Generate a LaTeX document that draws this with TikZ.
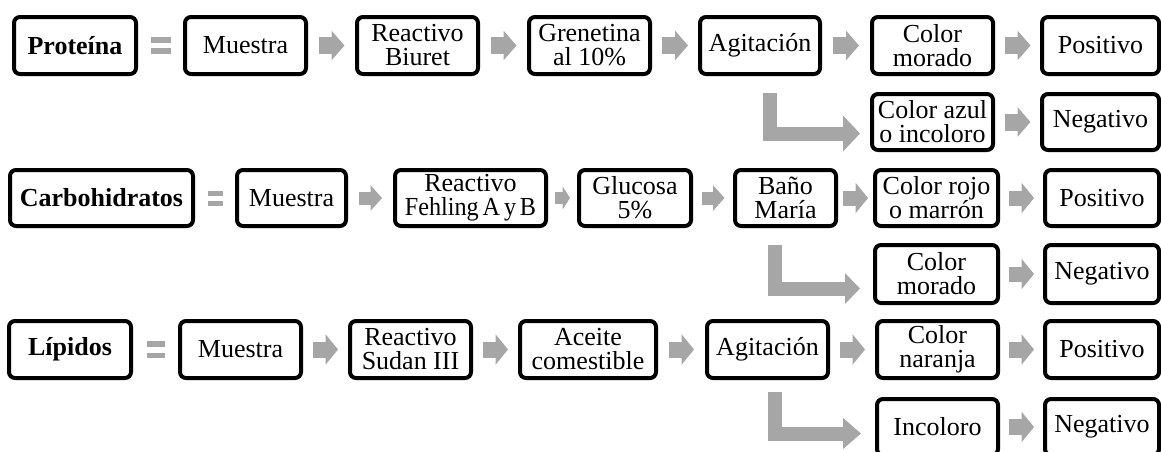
\documentclass[tikz,border=0pt]{standalone}
\usepackage{fontspec}
\setmainfont{Liberation Serif}
\usetikzlibrary{calc,arrows.meta}
\definecolor{arrgray}{HTML}{A6A6A6}
\tikzset{
  box/.style={draw=black, line width=4pt, rounded corners=6pt, fill=white, align=center,
    inner sep=0pt, font=\fontsize{26}{24}\selectfont},
  titlebox/.style={box, font=\fontsize{26}{24}\selectfont\bfseries},
  eqbar/.style={draw=arrgray, line width=#1},
  elbow/.style={draw=arrgray, line width=14pt, line join=miter},
}
\newcommand{\tight}[1]{\scalebox{0.93}[1]{\spaceskip=0.16em\relax #1}}
% block arrow centred between two nodes: from, to, length, shaft, head width
\newcommand{\blkarr}[5]{%
  \path (#1.east) -- (#2.west) coordinate[pos=.5] (bmid);
  \draw[arrgray, line width=#4pt, -{Triangle[length=#3*0.5pt, width=#5pt]}]
    ($(bmid)+(-#3/2,0)$) -- ($(bmid)+(#3/2,0)$);}
% equals sign centred between two nodes: from, to, width, offset, thickness
\newcommand{\eqconn}[5]{%
  \path (#1.east) -- (#2.west) coordinate[pos=.5] (emid);
  \draw[eqbar=#5pt] ($(emid)+(-#3/2,-#4)$) -- ($(emid)+(#3/2,-#4)$);
  \draw[eqbar=#5pt] ($(emid)+(-#3/2,#4)$) -- ($(emid)+(#3/2,#4)$);}
\begin{document}
\begin{tikzpicture}[x=1pt,y=-1pt]
\useasboundingbox (0,0) rectangle (1161,451);
% ---------- Row 1: Proteina
\node[titlebox, minimum width=122pt, minimum height=57pt] (prot) at (75,45.5) {Proteína};
\node[box, minimum width=121pt, minimum height=57pt] (m1) at (245.5,45.5) {Muestra};
\node[box, minimum width=121pt, minimum height=57pt] (r1) at (417.5,45.5) {Reactivo\\Biuret};
\node[box, minimum width=121pt, minimum height=57pt] (g1) at (589.5,45.5) {Grenetina\\al 10\%};
\node[box, minimum width=120pt, minimum height=57pt] (a1) at (760,45.5) {Agitación};
\node[box, minimum width=121pt, minimum height=57pt] (c1) at (932.5,45.5) {Color\\morado};
\node[box, minimum width=117pt, minimum height=57pt] (p1) at (1100.5,45.5) {Positivo};
\node[box, minimum width=121pt, minimum height=56pt] (n1c) at (932.5,122) {Color azul\\o incoloro};
\node[box, minimum width=117pt, minimum height=56pt] (n1) at (1100.5,122) {Negativo};
\eqconn{prot}{m1}{20}{5.5}{6}
\blkarr{m1}{r1}{26}{17}{29}
\blkarr{r1}{g1}{26}{17}{29}
\blkarr{g1}{a1}{26}{17}{29}
\blkarr{a1}{c1}{26}{17}{29}
\blkarr{c1}{p1}{26}{17}{29}
\blkarr{n1c}{n1}{26}{17}{29}
\coordinate (e1) at (770,93);
\draw[elbow, -{Triangle[length=17pt, width=35pt]}] (e1) |- ($(n1c.west)+(-10,11.5)$);
% ---------- Row 2: Carbohidratos
\node[titlebox, minimum width=183pt, minimum height=56pt] (carb) at (101.5,198) {Carbohidratos};
\node[box, minimum width=109pt, minimum height=56pt] (m2) at (291.5,198) {Muestra};
\node[box, minimum width=151pt, minimum height=56pt] (r2) at (470.5,198) {Reactivo\\\tight{Fehling A y B}};
\node[box, minimum width=112pt, minimum height=56pt] (g2) at (635,198) {Glucosa\\5\%};
\node[box, minimum width=101pt, minimum height=56pt] (b2) at (785.5,198) {Baño\\María};
\node[box, minimum width=123pt, minimum height=56pt] (c2) at (936.5,198) {Color rojo\\o marrón};
\node[box, minimum width=114pt, minimum height=56pt] (p2) at (1102,198) {Positivo};
\node[box, minimum width=123pt, minimum height=58pt] (n2c) at (936.5,274) {Color\\morado};
\node[box, minimum width=114pt, minimum height=58pt] (n2) at (1102,274) {Negativo};
\eqconn{carb}{m2}{15}{5}{5}
\blkarr{m2}{r2}{23}{13}{25}
\blkarr{r2}{g2}{15}{12}{23}
\blkarr{g2}{b2}{23}{13}{25}
\blkarr{b2}{c2}{25}{15}{30}
\blkarr{c2}{p2}{25}{15}{30}
\blkarr{n2c}{n2}{25}{15}{30}
\coordinate (e2) at (775,245);
\draw[elbow, -{Triangle[length=15pt, width=30pt]}] (e2) |- ($(n2c.west)+(-13,14.5)$);
% ---------- Row 3: Lipidos
\node[titlebox, minimum width=122pt, minimum height=57pt] (lip) at (70,349.5) {Lípidos};
\node[box, minimum width=121pt, minimum height=57pt] (m3) at (240.5,349.5) {Muestra};
\node[box, minimum width=121pt, minimum height=57pt] (r3) at (410.5,349.5) {Reactivo\\Sudan III};
\node[box, minimum width=136pt, minimum height=57pt] (ac3) at (588,349.5) {Aceite\\comestible};
\node[box, minimum width=121pt, minimum height=57pt] (a3) at (767.5,349.5) {Agitación};
\node[box, minimum width=121pt, minimum height=57pt] (c3) at (937.5,349.5) {Color\\naranja};
\node[box, minimum width=114pt, minimum height=57pt] (p3) at (1102,349.5) {Positivo};
\node[box, minimum width=121pt, minimum height=56pt] (n3c) at (937.5,427) {Incoloro};
\node[box, minimum width=114pt, minimum height=56pt] (n3) at (1102,427) {Negativo};
\eqconn{lip}{m3}{18}{5.75}{5.5}
\blkarr{m3}{r3}{25}{16}{30}
\blkarr{r3}{ac3}{25}{16}{30}
\blkarr{ac3}{a3}{25}{16}{30}
\blkarr{a3}{c3}{25}{16}{30}
\blkarr{c3}{p3}{25}{16}{30}
\blkarr{n3c}{n3}{25}{16}{30}
\coordinate (e3) at (775,392);
\draw[elbow, -{Triangle[length=18pt, width=30pt]}] (e3) |- ($(n3c.west)+(-14,6.5)$);
\end{tikzpicture}
\end{document}
